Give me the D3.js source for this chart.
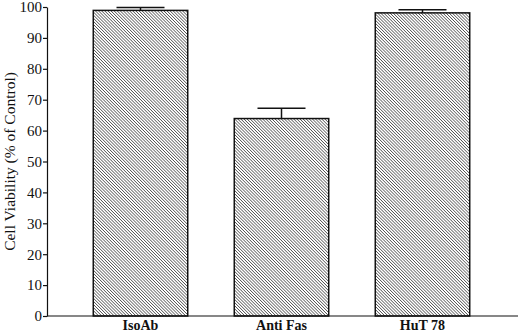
<!DOCTYPE html>
<html>
<head>
<meta charset="utf-8">
<script src="https://cdn.jsdelivr.net/npm/d3@7"></script>
<style>
  body { margin: 0; background: #fff; }
</style>
</head>
<body>
<div id="chart"></div>
<script>
const categories = ["IsoAb", "Anti Fas", "HuT 78"];
const viability = [98.9, 63.9, 98.1];
const errors = [0.9, 3.3, 1.0];
const yTicks = [0, 10, 20, 30, 40, 50, 60, 70, 80, 90, 100];

const width = 520, height = 334;

const svg = d3.select("#chart")
    .append("svg")
    .attr("width", width)
    .attr("height", height)
    .attr("font-family", "'Liberation Serif', 'DejaVu Serif', serif");

// hatch pattern
const defs = svg.append("defs");
const pat = defs.append("pattern")
    .attr("id", "hatch")
    .attr("patternUnits", "userSpaceOnUse")
    .attr("width", 2.2)
    .attr("height", 4)
    .attr("patternTransform", "rotate(-45)");
pat.append("rect").attr("width", 2.2).attr("height", 4).attr("fill", "#fff");
pat.append("line")
    .attr("x1", 0).attr("y1", 0)
    .attr("x2", 0).attr("y2", 4)
    .attr("stroke", "#333")
    .attr("stroke-width", 1.25);

const axisX = 47;
const y = d3.scaleLinear().domain([0, 100]).range([316, 7]);
const x = d3.scaleBand()
    .domain(categories)
    .range([70, 493])
    .paddingInner(0.33)
    .paddingOuter(0.165);

const data = categories.map((c, i) => ({ name: c, value: viability[i], err: errors[i] }));

// bars
svg.append("g")
    .selectAll("rect")
    .data(data)
    .enter().append("rect")
    .attr("x", d => x(d.name))
    .attr("y", d => y(d.value))
    .attr("width", x.bandwidth())
    .attr("height", d => y(0) - y(d.value))
    .attr("fill", "url(#hatch)")
    .attr("stroke", "#111")
    .attr("stroke-width", 1.5);

// error bars
const eb = svg.append("g").attr("stroke", "#111").attr("stroke-width", 1.5);
eb.selectAll("line.v")
    .data(data)
    .enter().append("line")
    .attr("class", "v")
    .attr("x1", d => x(d.name) + x.bandwidth() / 2)
    .attr("x2", d => x(d.name) + x.bandwidth() / 2)
    .attr("y1", d => y(d.value))
    .attr("y2", d => y(d.value + d.err));
eb.selectAll("line.c")
    .data(data)
    .enter().append("line")
    .attr("class", "c")
    .attr("x1", d => x(d.name) + x.bandwidth() / 2 - 24)
    .attr("x2", d => x(d.name) + x.bandwidth() / 2 + 24)
    .attr("y1", d => y(d.value + d.err))
    .attr("y2", d => y(d.value + d.err));

// y axis
const yAxis = svg.append("g")
    .attr("transform", `translate(${axisX},0)`)
    .call(d3.axisLeft(y).tickValues(yTicks).tickSize(4).tickSizeOuter(0).tickPadding(1));
yAxis.select(".domain").attr("stroke", "#111").attr("stroke-width", 1.2);
yAxis.selectAll(".tick line").attr("stroke", "#111").attr("stroke-width", 1.2);
yAxis.selectAll(".tick text")
    .attr("font-family", "'Liberation Serif', serif")
    .attr("font-size", 15)
    .attr("fill", "#111");

// baseline
svg.append("line")
    .attr("x1", axisX).attr("x2", 518)
    .attr("y1", y(0)).attr("y2", y(0))
    .attr("stroke", "#111")
    .attr("stroke-width", 1.2);

// category labels
svg.append("g")
    .selectAll("text")
    .data(categories)
    .enter().append("text")
    .attr("x", d => x(d) + x.bandwidth() / 2)
    .attr("y", 330)
    .attr("text-anchor", "middle")
    .attr("font-weight", "bold")
    .attr("font-size", 14)
    .attr("fill", "#111")
    .text(d => d);

// y title
svg.append("text")
    .attr("transform", `translate(15,${y(50)}) rotate(-90)`)
    .attr("text-anchor", "middle")
    .attr("font-size", 15.5)
    .attr("fill", "#111")
    .text("Cell Viability (% of Control)");
</script>
</body>
</html>
